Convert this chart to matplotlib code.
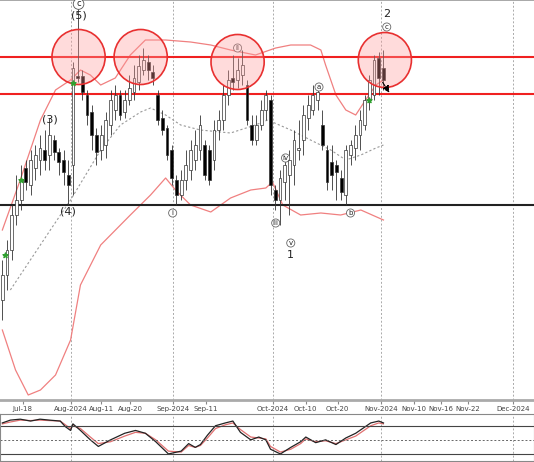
import numpy as np
import matplotlib
matplotlib.use('Agg')
import matplotlib.pyplot as plt
from matplotlib.patches import Ellipse, Rectangle

# candle data (arbitrary price units)
opens = [100,125,150,185,200,232,215,232,240,250,245,260,248,240,225,235,324,324,305,288,
         265,250,255,275,290,305,288,300,308,318,330,338,328,305,282,272,250,220,205,220,
         230,240,250,255,250,240,270,280,305,322,320,325,315,275,260,275,290,300,210,200,
         218,225,235,250,260,282,290,300,275,250,238,235,222,205,245,252,265,275,300,305,
         342,332]
closes = [125,150,185,200,220,218,240,245,252,240,265,248,238,228,215,332,322,308,285,265,
          248,265,280,300,305,285,300,312,322,334,340,330,322,280,270,245,222,205,220,235,
          250,255,275,225,220,270,280,305,320,318,330,335,280,260,275,290,305,215,200,222,
          235,240,260,252,285,295,305,308,255,218,225,228,208,250,255,265,280,300,320,340,
          322,320]
highs = [140,160,195,225,235,240,250,255,265,270,282,265,252,250,240,338,395,330,310,295,
         272,275,288,310,315,310,310,325,335,345,352,345,335,310,290,275,255,225,230,250,
         260,270,285,260,255,280,290,315,330,345,342,350,320,285,285,300,310,305,215,230,
         245,250,270,280,295,305,315,312,290,255,255,240,230,255,260,275,290,305,325,345,
         348,350]
lows = [80,110,140,175,190,210,205,220,225,230,230,240,225,215,195,205,318,300,275,250,
        235,240,242,265,280,280,282,295,300,310,325,320,315,275,265,240,215,195,200,210,
        220,230,240,220,215,230,260,270,295,310,312,315,275,255,255,270,280,205,190,175,
        200,185,215,240,245,270,285,290,250,210,210,200,200,195,235,240,250,270,290,300,
        305,310]

# bollinger bands (bar index, price)
upper_x = [0,3.8,8.1,11.3,14.5,16.6,18.7,20.9,24,27.2,30.4,34.7,40,44.3,48.5,53.8,58.1,61.3,65.5,67.7,68.7,70.9,73,75.1,77.2,79.4,81]
upper_y = [170,220,280,310,320,330,325,315,322,345,360,360,358,355,350,345,352,355,355,350,335,305,290,285,300,315,320]
mid_x = [1.7,10.2,14.5,17.7,20.9,25.1,29.4,31.5,34.7,37.9,42.1,48.5,53.8,56.4,61.3,65.5,69.8,73,76.2,79.4,81]
mid_y = [110,170,200,225,250,275,288,292,285,275,270,267,275,280,270,260,250,240,245,252,255]
lower_x = [0,2.8,5.5,8.1,11.3,14.5,16.6,20.9,27.2,31.5,34.7,36.8,40,44.3,48.5,52.8,56,57.4,59.6,63.4,67.7,71.9,76.2,81]
lower_y = [70,30,5,10,25,60,115,155,185,205,222,210,195,188,202,210,212,218,195,185,187,185,190,180]

# stochastic oscillator
stoch_x = [0,1.7,3.8,6,8,10,12.3,13.4,14.5,15,16.6,18.7,20.4,23,26,28.3,30.4,32.6,35.3,38,39.6,41,42.1,
           43.6,45.3,47.4,49,50.6,52.8,54.5,56,57,59.1,61.3,63.4,64.5,66.6,68.7,70.9,73,75.1,78.3,80,81]
stoch_k = [86,92,94,90,94,92,90,78,70,84,70,50,36,50,64,70,64,46,20,26,42,34,40,60,80,86,90,66,50,56,
           50,30,20,34,46,56,44,50,40,54,64,86,90,86]
stoch_d = [84,88,92,91,92,91,90,82,74,80,74,56,42,46,58,66,64,50,26,24,38,34,38,54,74,82,86,72,56,54,
           52,36,24,30,42,52,46,48,42,50,58,80,86,84]

tick_pos = [4.3,14.5,21,27.2,36.2,43.2,57.5,64.5,71.3,80.5,87.5,93.2,99,108.5]
tick_labels = ['Jul-18','Aug-2024','Aug-11','Aug-20','Sep-2024','Sep-11','Oct-2024','Oct-10',
               'Oct-20','Nov-2024','Nov-10','Nov-16','Nov-22','Dec-2024']
month_lines = [14.5,36.2,57.5,80.5,108.5]

levels_red = [343,306]
level_black = 195
circles = [(16.2,343),(29.4,343),(50,338),(81.3,340)]

fig = plt.figure(figsize=(5.34,4.62), dpi=100)
ax = fig.add_axes([0,62/462,1,400/462])
ax2 = fig.add_axes([0,1/462,1,47/462])
xlim = (-0.5,113)

for i in range(len(opens)):
    o, c = opens[i], closes[i]
    ax.vlines(i, lows[i], highs[i], color='#333333', lw=0.6, zorder=3)
    face = 'white' if c >= o else 'black'
    ax.add_patch(Rectangle((i-0.3, min(o,c)), 0.6, max(abs(c-o),1.5),
                           facecolor=face, edgecolor='#333333', lw=0.5, zorder=4))

ax.plot(upper_x, upper_y, color='#f08080', lw=0.9)
ax.plot(lower_x, lower_y, color='#f08080', lw=0.9)
ax.plot(mid_x, mid_y, color='#999999', lw=0.8, ls=(0,(2,2)))

for lv in levels_red:
    ax.axhline(lv, color='#f02020', lw=1.5, zorder=2)
ax.axhline(level_black, color='#222222', lw=1.5, zorder=2)

for cx, cy in circles:
    ax.add_patch(Ellipse((cx,cy), 11.3, 55, facecolor=(1,0.6,0.6,0.35),
                         edgecolor='#e83030', lw=1.2, zorder=5))

for xm in month_lines:
    ax.axvline(xm, color='#aaaaaa', lw=0.7, ls=(0,(2,2)), zorder=1)
    ax2.axvline(xm, color='#aaaaaa', lw=0.7, ls=(0,(2,2)))

ax.scatter([0.6,4,15,78], [145,220,317,300], marker='*', color='#30a030', s=14, zorder=6)
ax.annotate('', xy=(82.6,305), xytext=(80.5,320),
            arrowprops=dict(arrowstyle='-|>', color='black', lw=0.8, ls='--'), zorder=6)

txt = dict(ha='center', va='center', color='#222222')
ax.text(16.2,384,'(5)',fontsize=8,**txt)
ax.text(16.2,396,'c',fontsize=6,bbox=dict(boxstyle='circle,pad=0.1',fc='white',ec='#555555',lw=0.6),**txt)
ax.text(10.2,280,'(3)',fontsize=8,**txt)
ax.text(14,188,'(4)',fontsize=8,**txt)
ax.text(61.3,145,'1',fontsize=8,**txt)
ax.text(81.7,386,'2',fontsize=8,**txt)
for lx, ly, s in [(36.2,187,'i'),(50,352,'ii'),(58.1,177,'iii'),(60.2,242,'iv'),(61.3,157,'v'),
                  (67.3,313,'a'),(74,187,'b'),(81.7,373,'c')]:
    ax.text(lx, ly, s, fontsize=5,
            bbox=dict(boxstyle='circle,pad=0.15',fc='white',ec='#666666',lw=0.6), **txt)

ax.set_xlim(*xlim)
ax.set_ylim(0,400)
ax.set_yticks([])
ax.set_xticks(tick_pos)
ax.set_xticklabels(tick_labels, fontsize=5, color='#444444')
ax.tick_params(axis='x', direction='out', pad=1, length=3, color='#888888')
for sp in ax.spines.values():
    sp.set_visible(False)
ax.spines['bottom'].set_visible(True)
ax.spines['bottom'].set_color('#aaaaaa')
ax.spines['bottom'].set_linewidth(2)
ax.spines['top'].set_visible(True)
ax.spines['top'].set_color('#999999')
ax.spines['top'].set_linewidth(1.2)

ax2.plot(stoch_x, stoch_d, color='#e07070', lw=0.9)
ax2.plot(stoch_x, stoch_k, color='#222222', lw=0.9)
ax2.axhline(80, color='#444444', lw=0.8)
ax2.axhline(20, color='#444444', lw=0.8)
ax2.axhline(50, color='#666666', lw=0.7, ls=(0,(2,2)))
ax2.set_xlim(*xlim)
ax2.set_ylim(5,105)
ax2.set_xticks([]); ax2.set_yticks([])
for sp in ax2.spines.values():
    sp.set_color('#888888')

fig.savefig('out.png', dpi=100)
